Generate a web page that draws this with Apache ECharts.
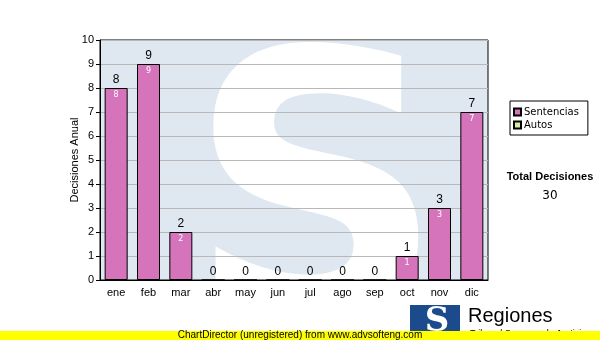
<!DOCTYPE html>
<html><head><meta charset="utf-8">
<script src="https://cdn.jsdelivr.net/npm/echarts@6/dist/echarts.min.js"></script>
<style>html,body{margin:0;padding:0;background:#fff}#c{width:600px;height:340px}</style>
</head><body><div id="c"></div>
<script>
var months = ['ene','feb','mar','abr','may','jun','jul','ago','sep','oct','nov','dic'];
var sentencias = [8,9,2,0,0,0,0,0,0,1,3,7];
var autos = [];
var yTicks = [0,1,2,3,4,5,6,7,8,9,10];
var totalLabel = 'Total Decisiones';
var totalValue = '30';

var chart = echarts.init(document.getElementById('c'), null, {renderer:'canvas'});
var F = 'Liberation Sans, Arial, sans-serif';
var PL = 100, PT = 40, PR = 488, PB = 280;
chart.setOption({
  animation:false,
  backgroundColor:'#fff',
  grid:{left:PL, top:PT, right:600-PR, bottom:340-PB, show:true, borderColor:'#000', borderWidth:1, backgroundColor:'transparent', z:3},
  legend:{
    data:['Sentencias','Autos'], orient:'vertical', left:510, top:101,
    width:66, padding:[6,9,5,3], itemGap:3, itemWidth:7, itemHeight:7,
    borderColor:'#000', borderWidth:1, icon:'rect',
    textStyle:{fontFamily:'DejaVu Sans, sans-serif', fontSize:10, color:'#000', padding:[0,0,0,-2]}
  },
  xAxis:{type:'category', data:months, z:3,
    axisLine:{lineStyle:{color:'#000'}}, axisTick:{alignWithLabel:true, length:4, lineStyle:{color:'#000'}},
    axisLabel:{color:'#000', fontFamily:F, fontSize:11, margin:7}},
  yAxis:{type:'value', min:yTicks[0], max:yTicks[yTicks.length-1], interval:1, z:3,
    name:'Decisiones Anual', nameLocation:'middle', nameGap:20, nameRotate:90, nameMoveOverlap:false,
    nameTextStyle:{color:'#000', fontFamily:F, fontSize:11},
    axisLine:{show:true, lineStyle:{color:'#000'}}, axisTick:{show:true, length:4, lineStyle:{color:'#000'}},
    axisLabel:{color:'#000', fontFamily:F, fontSize:11, margin:6},
    splitLine:{lineStyle:{color:'#b8b8b8'}}},
  graphic:[
    {type:'rect', z:0, shape:{x:PL, y:PT, width:PR-PL, height:PB-PT}, style:{fill:'#dfe8f1'}},
    {type:'text', z:1, x:316, y:223, scaleX:0.95, style:{x:0, y:0, text:'S', fill:'#ffffff', font:'bold 375px "DejaVu Sans"', textAlign:'center', textVerticalAlign:'middle'}},
    {type:'rect', z:2, shape:{x:0, y:0, width:600, height:PT}, style:{fill:'#fff'}},
    {type:'rect', z:2, shape:{x:0, y:PB, width:600, height:340-PB}, style:{fill:'#fff'}},
    {type:'text', z:5, style:{x:550, y:177, text:totalLabel, fill:'#000', font:'bold 11px "Liberation Sans"', textAlign:'center', textVerticalAlign:'middle'}},
    {type:'text', z:5, style:{x:550, y:196, text:totalValue, fill:'#000', font:'12px "DejaVu Sans"', textAlign:'center', textVerticalAlign:'middle'}},
    {type:'rect', z:5, shape:{x:410, y:305, width:50, height:30}, style:{fill:'#1b4b8c'}},
    {type:'text', z:6, style:{x:437, y:322, text:'S', fill:'#fff', font:'bold 34px "DejaVu Serif"', textAlign:'center', textVerticalAlign:'middle'}},
    {type:'text', z:5, style:{x:468, y:316, text:'Regiones', fill:'#000', font:'20px "Liberation Sans"', textAlign:'left', textVerticalAlign:'middle'}},
    {type:'text', z:5, style:{x:470, y:334, text:'Tribunal Supremo de Justicia', fill:'#000', font:'9px "Liberation Sans"', textAlign:'left', textVerticalAlign:'middle'}},
    {type:'rect', z:7, shape:{x:0, y:331, width:600, height:9}, style:{fill:'#ffff00'}},
    {type:'text', z:8, style:{x:300, y:335.5, text:'ChartDirector (unregistered) from www.advsofteng.com', fill:'#000', font:'10px "Liberation Sans"', textAlign:'center', textVerticalAlign:'middle'}}
  ],
  series:[
    {name:'Sentencias', type:'bar', data:sentencias, barWidth:23, barGap:'-100%', z:4,
      itemStyle:{color:'#d574bb', borderColor:'#000', borderWidth:1},
      label:{show:true, position:'top', distance:2, color:'#000', fontFamily:F, fontSize:12}},
    {name:'Sentencias-in', type:'bar', data:sentencias, barWidth:23, barGap:'-100%', z:5, silent:true,
      itemStyle:{color:'transparent'},
      label:{show:true, position:'insideTop', distance:3, color:'#fff', fontFamily:'DejaVu Sans, sans-serif', fontSize:8,
        formatter:function(p){return p.value>0?String(p.value):'';}}},
    {name:'Autos', type:'bar', data:autos, barWidth:23, barGap:'-100%', z:4,
      itemStyle:{color:'#d8eda2', borderColor:'#000', borderWidth:1}}
  ]
});
</script></body></html>
